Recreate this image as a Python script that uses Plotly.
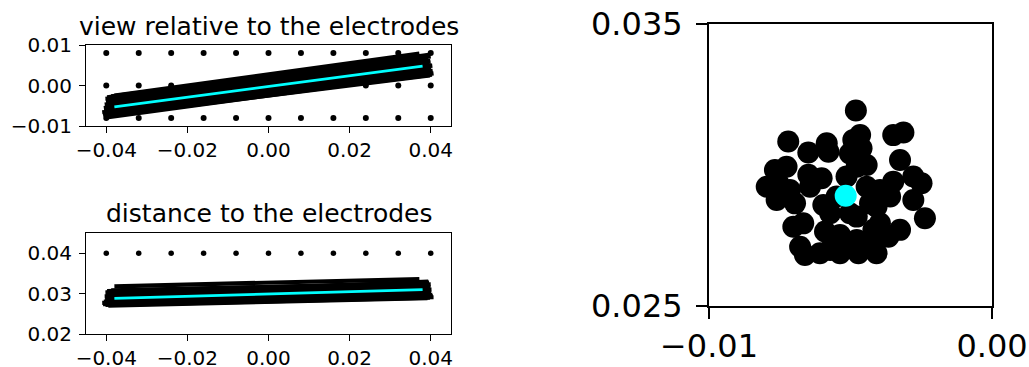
import plotly.graph_objects as go

# electrode positions
elec_x = [-0.04, -0.032, -0.024, -0.016, -0.008, 0.0, 0.008, 0.016, 0.024, 0.032, 0.04]
elec_y_rows = [0.008, 0.0, -0.008]
elec_dist = 0.04

# fitted line segments (perturbed fits)
seg_x0 = [-0.0395, -0.0402, -0.0388, -0.0405, -0.0392, -0.0398, -0.0384, -0.0401, -0.0390, -0.0396,
          -0.0386, -0.0403, -0.0393, -0.0399, -0.0389, -0.0404, -0.0391, -0.0397, -0.0385, -0.0400,
          -0.0394, -0.0387, -0.0402, -0.0392, -0.0398, -0.0388, -0.0380, -0.0408, -0.0395, -0.0390,
          -0.0401, -0.0410, -0.0387, -0.0396, -0.0406, -0.0393]
seg_x1 = [0.0392, 0.0398, 0.0386, 0.0403, 0.0390, 0.0396, 0.0382, 0.0400, 0.0388, 0.0394,
          0.0384, 0.0401, 0.0391, 0.0397, 0.0387, 0.0402, 0.0389, 0.0395, 0.0383, 0.0399,
          0.0393, 0.0385, 0.0400, 0.0390, 0.0396, 0.0386, 0.0372, 0.0405, 0.0393, 0.0388,
          0.0399, 0.0407, 0.0385, 0.0394, 0.0404, 0.0391]
view_y0 = [-0.0078, -0.0075, -0.0073, -0.0071, -0.0069, -0.0067, -0.0065, -0.0063, -0.0061, -0.0059,
           -0.0057, -0.0055, -0.0053, -0.0051, -0.0049, -0.0047, -0.0045, -0.0043, -0.0041, -0.0039,
           -0.0037, -0.0035, -0.0033, -0.0031, -0.0029, -0.0027, -0.0025, -0.0072, -0.0060, -0.0048,
           -0.0038, -0.0066, -0.0044, -0.0032, -0.0056, -0.0042]
view_y1 = [0.0028, 0.0025, 0.0033, 0.0027, 0.0038, 0.0031, 0.0042, 0.0034, 0.0046, 0.0037,
           0.0048, 0.0043, 0.0051, 0.0047, 0.0056, 0.0050, 0.0060, 0.0055, 0.0064, 0.0059,
           0.0068, 0.0063, 0.0072, 0.0067, 0.0076, 0.0070, 0.0079, 0.0036, 0.0039, 0.0058,
           0.0061, 0.0030, 0.0052, 0.0074, 0.0049, 0.0065]
dist_y0 = [0.0270, 0.0272, 0.0273, 0.0275, 0.0276, 0.0278, 0.0279, 0.0281, 0.0282, 0.0284,
           0.0285, 0.0287, 0.0288, 0.0290, 0.0291, 0.0293, 0.0294, 0.0296, 0.0297, 0.0299,
           0.0300, 0.0302, 0.0303, 0.0305, 0.0306, 0.0308, 0.0318, 0.0274, 0.0283, 0.0292,
           0.0301, 0.0277, 0.0286, 0.0295, 0.0280, 0.0298]
dist_y1 = [0.0289, 0.0290, 0.0293, 0.0292, 0.0296, 0.0295, 0.0299, 0.0298, 0.0302, 0.0301,
           0.0305, 0.0304, 0.0308, 0.0307, 0.0311, 0.0310, 0.0314, 0.0313, 0.0317, 0.0316,
           0.0320, 0.0319, 0.0323, 0.0322, 0.0327, 0.0325, 0.0336, 0.0294, 0.0300, 0.0309,
           0.0315, 0.0291, 0.0306, 0.0330, 0.0297, 0.0312]

# best fit line
best_x = [-0.038, 0.038]
best_view = [-0.0053, 0.0048]
best_dist = [0.0288, 0.0310]

# intersection points (right panel)
pts_x = [-0.00481, -0.00349, -0.00313, -0.00720, -0.00649, -0.00584, -0.00578, -0.00490, -0.00466, -0.00461,
         -0.00502, -0.00325, -0.00767, -0.00726, -0.00443, -0.00478, -0.00796, -0.00755, -0.00649, -0.00602,
         -0.00643, -0.00514, -0.00761, -0.00696, -0.00714, -0.00596, -0.00572, -0.00349, -0.00278, -0.00249,
         -0.00278, -0.00396, -0.00408, -0.00431, -0.00237, -0.00502, -0.00478, -0.00702, -0.00667, -0.00590,
         -0.00325, -0.00366, -0.00396, -0.00419, -0.00678, -0.00661, -0.00608, -0.00537, -0.00525, -0.00537,
         -0.00478, -0.00472, -0.00408, -0.00419, -0.00572, -0.00443, -0.00549, -0.00360]
pts_y = [0.03193, 0.03106, 0.03115, 0.03083, 0.03044, 0.03077, 0.03047, 0.03089, 0.03106, 0.03059,
         0.03041, 0.03018, 0.02982, 0.02994, 0.03000, 0.02994, 0.02923, 0.02935, 0.02965, 0.02953,
         0.02923, 0.02959, 0.02876, 0.02864, 0.02911, 0.02858, 0.02829, 0.02941, 0.02959, 0.02935,
         0.02876, 0.02911, 0.02852, 0.02864, 0.02811, 0.02829, 0.02817, 0.02781, 0.02793, 0.02764,
         0.02770, 0.02746, 0.02793, 0.02770, 0.02710, 0.02681, 0.02687, 0.02752, 0.02710, 0.02687,
         0.02734, 0.02687, 0.02687, 0.02734, 0.02699, 0.02923, 0.02888, 0.02888]
best_pt_x = [-0.00517]
best_pt_y = [0.02891]

FONT = "DejaVu Sans"
W, H = 1029, 367

fig = go.Figure()

# ---- top-left panel
ex, ey = [], []
for r in elec_y_rows:
    for x in elec_x:
        ex.append(x); ey.append(r)
fig.add_trace(go.Scatter(x=ex, y=ey, mode="markers", marker=dict(color="black", size=6),
                         xaxis="x", yaxis="y", showlegend=False))
lx, ly = [], []
for i in range(len(seg_x0)):
    lx += [seg_x0[i], seg_x1[i], None]
    ly += [view_y0[i], view_y1[i], None]
fig.add_trace(go.Scatter(x=lx, y=ly, mode="lines", line=dict(color="black", width=4.2),
                         xaxis="x", yaxis="y", showlegend=False))
fig.add_trace(go.Scatter(x=best_x, y=best_view, mode="lines", line=dict(color="#00ffff", width=2.7),
                         xaxis="x", yaxis="y", showlegend=False))

# ---- bottom-left panel
fig.add_trace(go.Scatter(x=elec_x, y=[elec_dist] * len(elec_x), mode="markers",
                         marker=dict(color="black", size=5.5), xaxis="x2", yaxis="y2", showlegend=False))
lx, ly = [], []
for i in range(len(seg_x0)):
    lx += [seg_x0[i], seg_x1[i], None]
    ly += [dist_y0[i], dist_y1[i], None]
fig.add_trace(go.Scatter(x=lx, y=ly, mode="lines", line=dict(color="black", width=4.2),
                         xaxis="x2", yaxis="y2", showlegend=False))
fig.add_trace(go.Scatter(x=best_x, y=best_dist, mode="lines", line=dict(color="#00ffff", width=2.7),
                         xaxis="x2", yaxis="y2", showlegend=False))

# ---- right panel
fig.add_trace(go.Scatter(x=pts_x, y=pts_y, mode="markers", marker=dict(color="black", size=22, line=dict(width=0)),
                         xaxis="x3", yaxis="y3", showlegend=False))
fig.add_trace(go.Scatter(x=best_pt_x, y=best_pt_y, mode="markers",
                         marker=dict(color="#00ffff", size=22, line=dict(width=0)),
                         xaxis="x3", yaxis="y3", showlegend=False))

def ax(domain, rng, tickvals, ticktext, anchor, size, lw, tlen, standoff):
    return dict(domain=domain, range=rng, tickvals=tickvals, ticktext=ticktext, anchor=anchor,
                automargin=False,
                showgrid=False, zeroline=False, showline=True, mirror=True, linecolor="black",
                linewidth=lw, ticks="outside", ticklen=tlen, tickwidth=lw, tickcolor="black",
                tickfont=dict(family=FONT, size=size, color="black"), ticklabelstandoff=standoff)

xt = [-0.04, -0.02, 0.0, 0.02, 0.04]
xtt = ["\u22120.04", "\u22120.02", "0.00", "0.02", "0.04"]
fig.update_layout(
    width=W, height=H, margin=dict(l=0, r=0, t=0, b=0),
    plot_bgcolor="white", paper_bgcolor="white",
    xaxis=ax([86 / W, 451 / W], [-0.045, 0.045], xt, xtt, "y", 20, 1, 6, 0),
    yaxis=ax([1 - 126 / H, 1 - 45 / H], [-0.01, 0.01], [-0.01, 0.0, 0.01],
             ["\u22120.01", "0.00", "0.01"], "x", 20, 1, 6, 3),
    xaxis2=ax([86 / W, 451 / W], [-0.045, 0.045], xt, xtt, "y2", 20, 1, 6, 0),
    yaxis2=ax([1 - 334 / H, 1 - 233 / H], [0.02, 0.045], [0.02, 0.03, 0.04],
              ["0.02", "0.03", "0.04"], "x2", 20, 1, 6, 3),
    xaxis3=ax([709 / W, 992 / W], [-0.01, 0.0], [-0.01, 0.0], ["\u22120.01", "0.00"], "y3", 32, 2, 11, 0),
    yaxis3=ax([1 - 306 / H, 1 - 24 / H], [0.025, 0.035], [0.025, 0.035], ["0.025", "0.035"], "x3", 32, 2, 11, 7),
    annotations=[
        dict(text="view relative to the electrodes", x=268.5 / W, y=1 - 27 / H, xref="paper", yref="paper",
             showarrow=False, xanchor="center", yanchor="middle", font=dict(family=FONT, size=25, color="black")),
        dict(text="distance to the electrodes", x=268.5 / W, y=1 - 213 / H, xref="paper", yref="paper",
             showarrow=False, xanchor="center", yanchor="middle", font=dict(family=FONT, size=25, color="black")),
    ],
)

fig.write_html("out.html")
